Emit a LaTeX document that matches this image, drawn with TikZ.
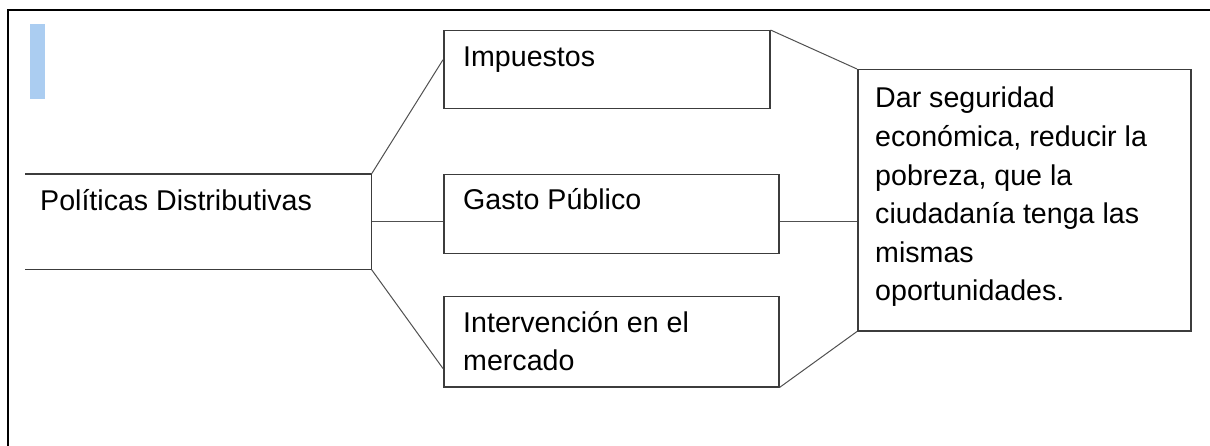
\documentclass[tikz,border=0pt]{standalone}
\usepackage{fontspec}
\setmainfont{Liberation Sans}
\definecolor{boxgray}{HTML}{3C3C3C}
\definecolor{linegray}{HTML}{505050}
\definecolor{barblue}{HTML}{ABCDF1}
\tikzstyle{box}=[anchor=north west, inner sep=0pt, draw=boxgray, line width=1.5pt]
\tikzstyle{txt}=[anchor=base west, inner sep=0pt, align=left, font=\fontsize{28.6}{38}\selectfont]
\tikzstyle{conn}=[linegray, line width=1pt]

\begin{document}
\begin{tikzpicture}[x=1pt, y=-1pt]
\useasboundingbox (0,0) rectangle (1210,446);

\draw[line width=2pt] (7.5,446) -- (7.5,10) -- (1210,10);
\fill[barblue] (30,24) rectangle (45,99);

\node[box, draw=none, minimum width=345pt, minimum height=94pt] (pol) at (25,174) {};
\draw[boxgray, line width=1.5pt] (pol.north west) -- (pol.north east) -- (pol.south east) -- (pol.south west);
\node[txt] (pol-t) at (40,211) {Políticas Distributivas};

\node[box, minimum width=326pt, minimum height=78pt] (imp) at (443,30) {};
\node[txt] (imp-t) at (463,67) {Impuestos};

\node[box, minimum width=335pt, minimum height=79pt] (gasto) at (443,174) {};
\node[txt] (gasto-t) at (463,210) {Gasto Público};

% multi-line text: base is the last line
\node[box, minimum width=335pt, minimum height=90pt] (interv) at (443,296) {};
\node[txt, font=\fontsize{28.6}{37}\selectfont] (interv-t) at (463,370) {Intervención en el\\mercado};

\node[box, minimum width=333pt, minimum height=261pt] (meta) at (857,69) {};
\node[txt, font=\fontsize{28.6}{38.6}\selectfont] (meta-t) at (875,301) {Dar seguridad\\económica, reducir la\\pobreza, que la\\ciudadanía tenga las\\mismas\\oportunidades.};

\draw[conn] (pol.north east) -- ([yshift=10pt]imp.west);
\draw[conn] (pol.east) -- (pol.east -| gasto.west);
\draw[conn] (pol.south east) -- ([yshift=19pt]interv.south west);

\draw[conn] (imp.north east) -- (meta.north west);
\draw[conn] (gasto.east |- pol.east) -- (meta.west |- pol.east);
\draw[conn] (interv.south east) -- (meta.south west);

\end{tikzpicture}
\end{document}
